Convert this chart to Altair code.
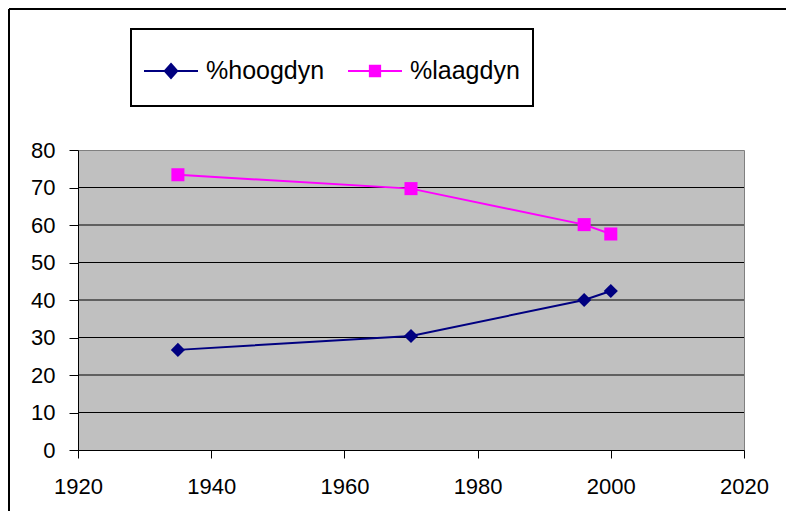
import altair as alt
import pandas as pd

years = [1935, 1970, 1996, 2000]
hoogdyn = [26.7, 30.4, 40.0, 42.4]
laagdyn = [73.4, 69.7, 60.1, 57.6]
series_names = ["%hoogdyn", "%laagdyn"]
series_colors = ["#000080", "#FF00FF"]
x_ticks = [1920, 1940, 1960, 1980, 2000, 2020]
y_ticks = [0, 10, 20, 30, 40, 50, 60, 70, 80]
grid_values = [10, 20, 30, 40, 50, 60, 70]

rows = []
for yr, h, l in zip(years, hoogdyn, laagdyn):
    rows.append({"year": yr, "value": h, "series": series_names[0]})
    rows.append({"year": yr, "value": l, "series": series_names[1]})
df = pd.DataFrame(rows)
grid_df = pd.DataFrame({"g": grid_values})
one = pd.DataFrame({"a": [0]})

FONT = "Liberation Sans"

xscale = alt.Scale(domain=[1920, 2020], nice=False, zero=False)
yscale = alt.Scale(domain=[0, 80], nice=False)

xaxis = alt.Axis(values=x_ticks, format="d", title=None, grid=False,
                 tickSize=8, labelPadding=18, labelFontSize=22,
                 labelFont=FONT, labelColor="black", domainColor="black",
                 tickColor="black", labelFlush=False, labelOverlap=False)
yaxis = alt.Axis(values=y_ticks, title=None, grid=False, tickSize=9,
                 labelPadding=14, labelFontSize=22, labelFont=FONT,
                 labelColor="black", domainColor="black", tickColor="black")
X = alt.X("year:Q", scale=xscale, axis=xaxis)
Y = alt.Y("value:Q", scale=yscale, axis=yaxis)

color = alt.Color("series:N", scale=alt.Scale(domain=series_names, range=series_colors), legend=None)

grid = alt.Chart(grid_df).mark_rule(color="black", strokeWidth=1).encode(
    y=alt.Y("g:Q", scale=yscale, axis=yaxis)
)

lines = alt.Chart(df).mark_line(strokeWidth=2).encode(x=X, y=Y, color=color, detail="series:N")

pts_h = alt.Chart(df).transform_filter(alt.datum.series == series_names[0]).mark_point(
    filled=True, shape="diamond", size=200, opacity=1, color=series_colors[0]
).encode(x=X, y=Y)
pts_l = alt.Chart(df).transform_filter(alt.datum.series == series_names[1]).mark_point(
    filled=True, shape="square", size=170, opacity=1, color=series_colors[1]
).encode(x=X, y=Y)

sym_paths = [
    "M-1,0L1,0M0,-0.26L0.23,0L0,0.26L-0.23,0Z",
    "M-1,0L1,0M-0.19,-0.19L0.19,-0.19L0.19,0.19L-0.19,0.19Z",
]
leg = alt.Legend(title=None, orient="none", legendX=53, legendY=-119, direction="horizontal",
                 strokeColor="transparent", fillColor="transparent", padding=12,
                 labelFontSize=25, labelFont=FONT, labelColor="black", labelOffset=7,
                 columnPadding=19, symbolSize=2916, symbolStrokeWidth=2, symbolOpacity=1,
                 labelLimit=300)
legend_layer = alt.Chart(df).mark_point(size=20, opacity=1, strokeWidth=1).encode(
    x=X, y=Y,
    fill=alt.Fill("series:N", scale=alt.Scale(domain=series_names, range=series_colors), legend=leg),
    stroke=alt.Stroke("series:N", scale=alt.Scale(domain=series_names, range=series_colors), legend=leg),
    shape=alt.Shape("series:N", scale=alt.Scale(domain=series_names, range=sym_paths), legend=leg),
)

legend_box = alt.Chart(one).mark_rect(fill="white", stroke="black", strokeWidth=2).encode(
    x=alt.value(53), x2=alt.value(455), y=alt.value(-121), y2=alt.value(-44))

border_top = alt.Chart(one).mark_rule(color="black", strokeWidth=2).encode(
    x=alt.value(-69), x2=alt.value(710), y=alt.value(-141))
border_left = alt.Chart(one).mark_rule(color="black", strokeWidth=2).encode(
    x=alt.value(-69), y=alt.value(-141), y2=alt.value(362))

chart = alt.layer(grid, legend_layer, lines, pts_h, pts_l, legend_box, border_top, border_left).properties(
    width=666, height=300,
    background="white",
    autosize=alt.AutoSizeParams(type="none"),
    padding={"left": 70, "top": 142, "right": 42, "bottom": 61},
).configure_view(fill="#C0C0C0", stroke="#808080", strokeWidth=1)

chart.save("out.html", embed_options={"renderer": "svg", "actions": False})
